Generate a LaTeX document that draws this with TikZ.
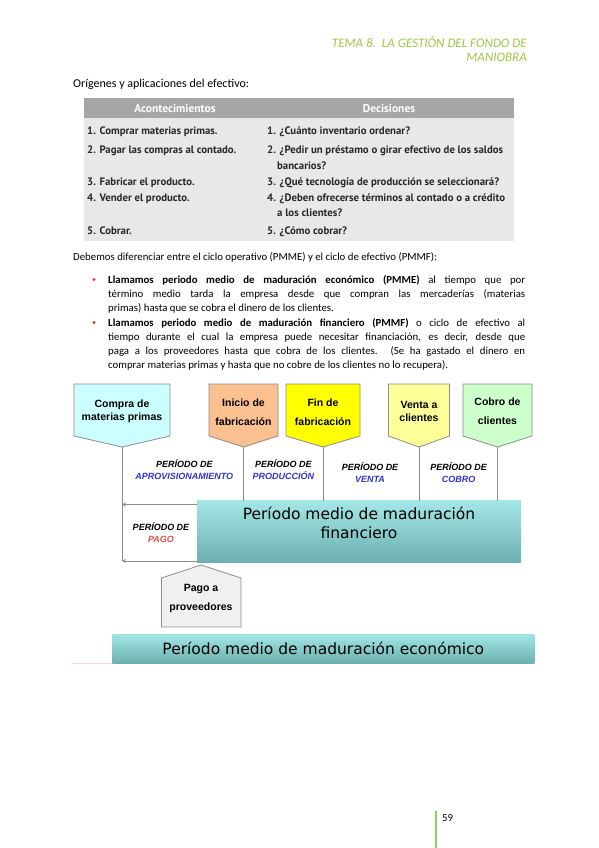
\documentclass[tikz,border=0pt]{standalone}
\usepackage{fontspec}
\setmainfont{Carlito}
\newfontfamily\tabfont{PT Sans}
\newfontfamily\boxfont{Liberation Sans}
\newfontfamily\barfont{DejaVu Sans}
\usetikzlibrary{positioning, calc, arrows.meta}

\definecolor{headgreen}{RGB}{155,200,70}
\definecolor{tabhead}{RGB}{166,166,166}
\definecolor{tabbody}{RGB}{232,232,232}
\definecolor{tabtext}{RGB}{40,40,40}
\definecolor{cCompra}{RGB}{204,255,255}
\definecolor{cInicio}{RGB}{250,192,144}
\definecolor{cFin}{RGB}{255,255,0}
\definecolor{cVenta}{RGB}{255,255,153}
\definecolor{cCobro}{RGB}{204,255,204}
\definecolor{cPago}{RGB}{240,240,240}
\definecolor{tealTop}{RGB}{162,230,230}
\definecolor{tealBot}{RGB}{108,176,176}
\definecolor{perBlue}{RGB}{51,51,204}
\definecolor{perRed}{RGB}{220,80,80}
\definecolor{lineGray}{RGB}{140,140,140}
\definecolor{bulletRed}{RGB}{225,50,50}
\definecolor{pageGreen}{RGB}{146,208,80}

\newcommand{\jline}[1]{\makebox[417pt][s]{#1}}

\begin{document}
\begin{tikzpicture}[
    x=1pt, y=-1pt,
    txt/.style={font=\fontsize{10.8}{14}\selectfont, inner sep=0pt, anchor=base west},
    head/.style={font=\fontsize{13}{15}\selectfont\itshape, text=headgreen,
                 inner sep=0pt, anchor=base east},
    tcell/.style={font=\tabfont\bfseries\fontsize{10.8}{12}\selectfont, text=tabtext,
                  inner sep=0pt, anchor=base west},
    thead/.style={font=\tabfont\bfseries\fontsize{11.5}{13}\selectfont, text=white,
                  inner sep=0pt},
    flag/.style={draw=lineGray, line width=0.8pt},
    lbl/.style={font=\boxfont\bfseries\fontsize{10.5}{13}\selectfont, align=center,
                inner sep=0pt},
    lblw/.style={lbl, font=\boxfont\bfseries\fontsize{10.5}{19}\selectfont},
    per/.style={font=\boxfont\bfseries\itshape\fontsize{9}{12}\selectfont,
                align=center, inner sep=0pt},
    conn/.style={draw=lineGray, line width=0.8pt},
    arw/.style={conn, -{Stealth[length=4pt, width=4pt]}},
    bar/.style={top color=tealTop, bottom color=tealBot, draw=none, inner sep=0pt,
                font=\barfont\fontsize{15.5}{19}\selectfont, align=center},
    bartxt/.style={font=\barfont\fontsize{15.5}{19}\selectfont, align=center,
                   inner sep=0pt},
]
\useasboundingbox (0,0) rectangle (599,848);

% Header
\node[head] (tema) at (527,47.5) {TEMA 8.\ \ LA GESTIÓN DEL FONDO DE};
\node[head] (maniobra) at (527,61.5) {MANIOBRA};

\node[txt, font=\fontsize{12}{14}\selectfont] (orig) at (73,88)
    {Orígenes y aplicaciones del efectivo:};

% Table
\fill[tabhead] (84,98) rectangle (514,118.5);
\fill[tabbody] (84,118.5) rectangle (514,241);
\node[thead] (thA) at (175,108.5) {Acontecimientos};
\node[thead] (thD) at (389,108.5) {Decisiones};

\node[tcell] (a1) at (87,135) {1. Comprar materias primas.};
\node[tcell] (a2) at (87,153.3) {2. Pagar las compras al contado.};
\node[tcell] (a3) at (87,185.3) {3. Fabricar el producto.};
\node[tcell] (a4) at (87,201.3) {4. Vender el producto.};
\node[tcell] (a5) at (87,234.3) {5. Cobrar.};
\node[tcell] (d1) at (267,135) {1. ¿Cuánto inventario ordenar?};
\node[tcell] (d2) at (267,153.3) {2. ¿Pedir un préstamo o girar efectivo de los saldos};
\node[tcell] (d2b) at (277,169.3) {bancarios?};
\node[tcell] (d3) at (267,185.3) {3. ¿Qué tecnología de producción se seleccionará?};
\node[tcell] (d4) at (267,201.3) {4. ¿Deben ofrecerse términos al contado o a crédito};
\node[tcell] (d4b) at (277,216.3) {a los clientes?};
\node[tcell] (d5) at (267,234.3) {5. ¿Cómo cobrar?};

% Text
\node[txt] (debemos) at (73,260)
    {Debemos diferenciar entre el ciclo operativo (PMME) y el ciclo de efectivo (PMMF):};

\fill[bulletRed] (94,279.5) circle (1.7);
\node[txt] (b1l1) at (108,283)
    {\jline{\textbf{Llamamos periodo medio de maduración económico (PMME)} al tiempo que por}};
\node[txt] (b1l2) at (108,297)
    {\jline{término medio tarda la empresa desde que compran las mercaderías (materias}};
\node[txt] (b1l3) at (108,311) {primas) hasta que se cobra el dinero de los clientes.};

\fill[bulletRed] (94,322.5) circle (1.7);
\node[txt] (b2l1) at (108,326)
    {\jline{\textbf{Llamamos periodo medio de maduración financiero (PMMF)} o ciclo de efectivo al}};
\node[txt] (b2l2) at (108,340)
    {\jline{tiempo durante el cual la empresa puede necesitar financiación, es decir, desde que}};
\node[txt] (b2l3) at (108,354)
    {\jline{paga a los proveedores hasta que cobra de los clientes. (Se ha gastado el dinero en}};
\node[txt] (b2l4) at (108,368)
    {comprar materias primas y hasta que no cobre de los clientes no lo recupera).};

% Event boxes
\draw[flag, fill=cCompra] (74,384) -- (170,384) -- (170,436) -- (122,447) -- (74,436) -- cycle;
\draw[flag, fill=cInicio] (209,384) -- (278,384) -- (278,436) -- (243.5,447) -- (209,436) -- cycle;
\draw[flag, fill=cFin] (286,384) -- (360,384) -- (360,436) -- (323,447) -- (286,436) -- cycle;
\draw[flag, fill=cVenta] (388.5,384) -- (449.5,384) -- (449.5,436) -- (419,447) -- (388.5,436) -- cycle;
\draw[flag, fill=cCobro] (463,384) -- (532,384) -- (532,436) -- (497.5,447) -- (463,436) -- cycle;
\draw[flag, fill=cPago] (161.5,627) -- (161.5,578) -- (201,565) -- (241,578) -- (241,627) -- cycle;

\node[lbl] (compra) at (122,411.5) {Compra de\\materias primas};
\node[lblw] (inicio) at (243.5,412.5) {Inicio de\\fabricación};
\node[lblw] (fin) at (323,412.5) {Fin de\\fabricación};
\node[lbl] (venta) at (419,411.5) {Venta a\\clientes};
\node[lblw] (cobro) at (497.5,411.5) {Cobro de\\clientes};
\node[lblw] (pago) at (201,598.5) {Pago a\\proveedores};

\coordinate (compraTip) at (122,447);
\coordinate (inicioTip) at (243.5,447);
\coordinate (finTip) at (323,447);
\coordinate (ventaTip) at (419,447);
\coordinate (cobroTip) at (497.5,447);

% Periods
\node[bar, minimum width=324pt, minimum height=62pt] (pmmf) at (359.2,531.7) {};
\node[bartxt] (pmmfTxt) at (359,522.5) {Período medio de maduración\\financiero};
\node[bar, minimum width=422pt, minimum height=29pt] (pmme) at (323.3,648.5)
    {Período medio de maduración económico};

\draw[conn] (inicioTip) -- (inicioTip |- pmmf.north);
\draw[conn] (finTip) -- (finTip |- pmmf.north);
\draw[conn] (ventaTip) -- (ventaTip |- pmmf.north);
\draw[conn] (cobroTip) -- (cobroTip |- pmmf.north);

\coordinate (pTop) at ([yshift=-4pt]pmmf.north west);
\coordinate (pBot) at ([yshift=2pt]pmmf.south west);
\coordinate (compraEnd) at (compraTip |- pBot);
\draw[conn] (compraTip) -- (compraEnd);
\draw[arw] (pTop) -- (pTop -| compraTip);
\draw[arw] (pBot) -- (compraEnd);

\node[per] (perAprov) at (184.3,470) {PERÍODO DE\\\textcolor{perBlue}{APROVISIONAMIENTO}};
\node[per] (perProd) at (283.3,470) {PERÍODO DE\\\textcolor{perBlue}{PRODUCCIÓN}};
\node[per] (perVenta) at (370,472.5) {PERÍODO DE\\\textcolor{perBlue}{VENTA}};
\node[per] (perCobro) at (458.7,472.5) {PERÍODO DE\\\textcolor{perBlue}{COBRO}};
\node[per] (perPago) at (161,533) {PERÍODO DE\\\textcolor{perRed}{PAGO}};

\draw[red!15, line width=0.8pt] (72,663.5) -- (112,663.5);

% Page number
\draw[pageGreen, line width=2.5pt] (436,811) -- (436,848);
\node[txt] (pnum) at (442,821) {59};
\end{tikzpicture}
\end{document}
